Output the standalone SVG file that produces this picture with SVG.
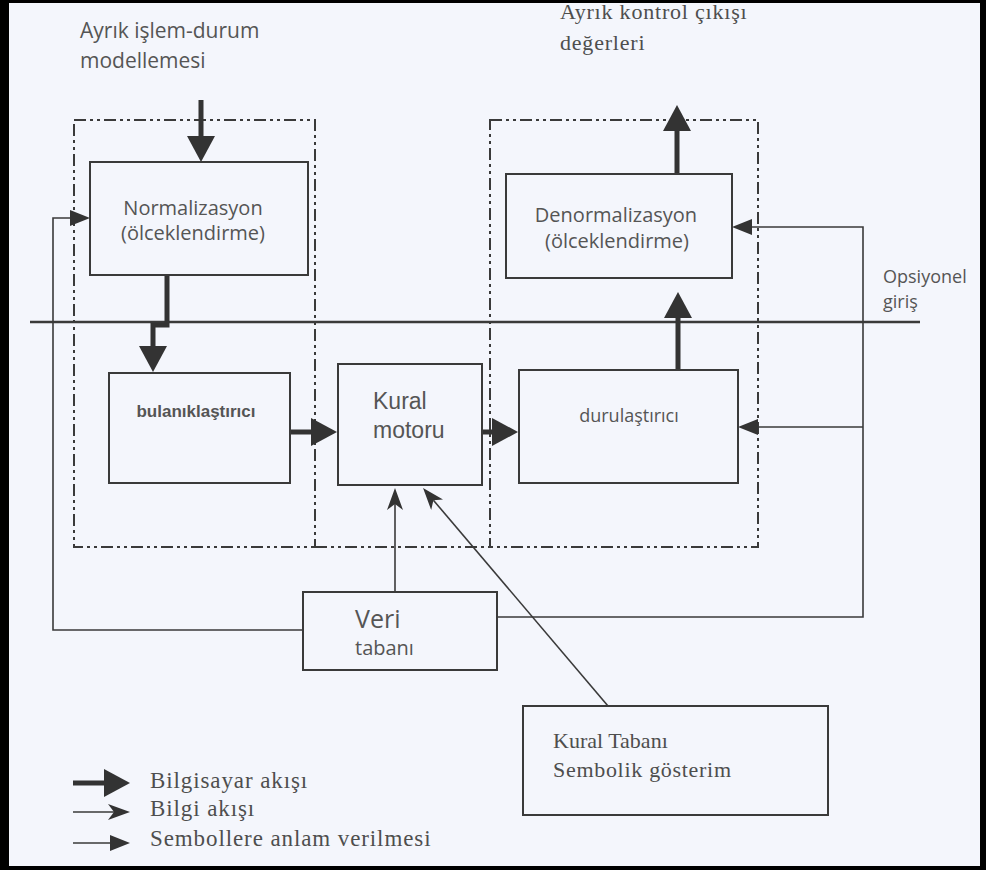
<svg xmlns="http://www.w3.org/2000/svg" width="986" height="870" viewBox="0 0 986 870">
<style>
.box{fill:none;stroke:#3a3a3a;stroke-width:2}
.grp{fill:none;stroke:#3a3a3a;stroke-width:2;stroke-dasharray:12 4 3 4 3 4}
.thick{fill:none;stroke:#333;stroke-width:5}
.thin{fill:none;stroke:#3a3a3a;stroke-width:1.6}
.sans{font-family:"Open Sans","Noto Sans",sans-serif;fill:#555}
.ser{font-family:"Liberation Serif",serif;fill:#4e4e4e}
.ari{font-family:"Liberation Sans",sans-serif;fill:#555}
</style>
<defs>
<marker id="mThick" markerUnits="userSpaceOnUse" markerWidth="26" markerHeight="28" refX="2" refY="14" orient="auto"><path d="M0,0 L26,14 L0,28 Z" fill="#333"/></marker>
<marker id="mThin" markerUnits="userSpaceOnUse" markerWidth="20" markerHeight="16" refX="2" refY="8" orient="auto"><path d="M0,0 L20,8 L0,16 Z" fill="#333"/></marker>
<marker id="mBarb" markerUnits="userSpaceOnUse" markerWidth="22" markerHeight="16" refX="6" refY="8" orient="auto"><path d="M0,0 L22,8 L0,16 L6,8 Z" fill="#333"/></marker>
</defs>
<rect x="0" y="0" width="986" height="870" fill="#000"/>
<rect x="9" y="3" width="971" height="863" fill="#f4f6fc"/>

<g id="groups">
<rect class="grp" x="74" y="120" width="241" height="427"/>
<rect class="grp" x="490" y="120" width="268" height="427"/>
<line class="grp" x1="315" y1="547" x2="490" y2="547"/>
</g>

<g id="bus"><line x1="30" y1="322" x2="920" y2="322" stroke="#3a3a3a" stroke-width="2.5"/></g>

<g id="connectors">
<path class="thick" d="M201,100 L201,138" marker-end="url(#mThick)"/>
<path class="thick" d="M167,275 L167,325 L153,325 L153,348" marker-end="url(#mThick)"/>
<path class="thick" d="M290,432 L313,432" marker-end="url(#mThick)"/>
<path class="thick" d="M482,432 L494,432" marker-end="url(#mThick)"/>
<path class="thick" d="M678,370 L678,316" marker-end="url(#mThick)"/>
<path class="thick" d="M677,174 L677,129" marker-end="url(#mThick)"/>
<path class="thin" d="M303,630 L53,630 L53,218 L72,218" marker-end="url(#mThin)"/>
<path class="thin" d="M497,617 L863,617 L863,227 L750,227" marker-end="url(#mThin)"/>
<path class="thin" d="M863,427 L756,427" marker-end="url(#mThin)"/>
<path class="thin" d="M395,592 L395,504" marker-end="url(#mBarb)"/>
<path class="thin" d="M608,706 L433.4,500.2" marker-end="url(#mBarb)"/>
</g>

<g id="label-input"><text class="sans" font-size="21" x="80" y="38">Ayrık işlem-durum</text><text class="sans" font-size="21" x="80" y="68">modellemesi</text></g>
<g id="label-output"><text class="ser" font-size="22" letter-spacing="0.8" x="560" y="19">Ayrık kontrol çıkışı</text><text class="ser" font-size="22" letter-spacing="0.8" x="560" y="50">değerleri</text></g>
<g id="label-optional"><text class="sans" font-size="18" x="883" y="283">Opsiyonel</text><text class="sans" font-size="18" x="883" y="308">giriş</text></g>

<g id="normalizasyon"><rect class="box" x="90" y="162" width="218" height="113"/>
<text class="sans" font-size="20" x="193" y="215" text-anchor="middle">Normalizasyon</text>
<text class="sans" font-size="20" x="193" y="240" text-anchor="middle">(ölceklendirme)</text></g>

<g id="denormalizasyon"><rect class="box" x="506" y="174" width="226" height="104"/>
<text class="sans" font-size="20" x="616" y="222" text-anchor="middle">Denormalizasyon</text>
<text class="sans" font-size="20" x="617" y="248" text-anchor="middle">(ölceklendirme)</text></g>

<g id="bulaniklastirici"><rect class="box" x="109" y="373" width="181" height="110"/>
<text class="ari" font-size="17" font-weight="bold" x="196" y="417" text-anchor="middle">bulanıklaştırıcı</text></g>

<g id="kural-motoru"><rect class="box" x="338" y="364" width="144" height="121"/>
<text class="ari" font-size="23" x="373" y="409">Kural</text>
<text class="ari" font-size="23" x="373" y="438">motoru</text></g>

<g id="durulastirici"><rect class="box" x="519" y="370" width="219" height="113"/>
<text class="sans" font-size="18" x="629" y="422" text-anchor="middle">durulaştırıcı</text></g>

<g id="veri-tabani"><rect class="box" x="303" y="592" width="194" height="78"/>
<text class="sans" font-size="25" x="355" y="628">Veri</text>
<text class="sans" font-size="20" x="355" y="655">tabanı</text></g>

<g id="kural-tabani"><rect class="box" x="523" y="706" width="305" height="109"/>
<text class="ser" font-size="22" x="553" y="748">Kural Tabanı</text>
<text class="ser" font-size="22" letter-spacing="0.7" x="553" y="777">Sembolik gösterim</text></g>

<g id="legend">
<path class="thick" d="M73,783 L106,783" marker-end="url(#mThick)"/>
<path class="thin" stroke-width="3" d="M73,812 L114,812" marker-end="url(#mBarb)"/>
<path class="thin" d="M73,843 L112,843" marker-end="url(#mThin)"/>
<text class="ser" font-size="23" letter-spacing="0.9" x="150" y="788">Bilgisayar akışı</text>
<text class="ser" font-size="23" letter-spacing="0.9" x="150" y="816">Bilgi akışı</text>
<text class="ser" font-size="23" letter-spacing="0.9" x="150" y="846">Sembollere anlam verilmesi</text>
</g>
</svg>
